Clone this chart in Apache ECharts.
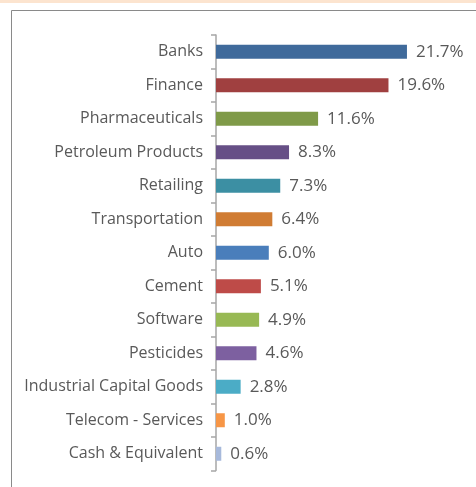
<!DOCTYPE html>
<html><head><meta charset="utf-8">
<script src="https://cdn.jsdelivr.net/npm/echarts@6/dist/echarts.min.js"></script>
<style>html,body{margin:0;padding:0;background:#fff}#c{width:476px;height:487px}</style>
</head><body><div id="c"></div>
<script>
const categories = ["Banks","Finance","Pharmaceuticals","Petroleum Products","Retailing","Transportation","Auto","Cement","Software","Pesticides","Industrial Capital Goods","Telecom - Services","Cash & Equivalent"];
const values = [21.7,19.6,11.6,8.3,7.3,6.4,6.0,5.1,4.9,4.6,2.8,1.0,0.6];
const colors = ["#3F6A9B","#A04040","#7F9A48","#664F86","#3C8FA3","#D07C33","#4A7EBB","#BE4B48","#98B954","#7D60A0","#4BACC6","#F79646","#A7B9DB"];

const chart = echarts.init(document.getElementById('c'));
const font = 'Open Sans';
chart.setOption({
  animation:false,
  graphic:[
    {type:'rect',shape:{x:0,y:0,width:476,height:3},style:{fill:'#FCE4CF'}},
    {type:'rect',shape:{x:11.5,y:10.5,width:520,height:520},style:{fill:'none',stroke:'#8a8a8a',lineWidth:1}}
  ],
  grid:{left:216,right:40,top:35,bottom:16.5,containLabel:false},
  xAxis:{type:'value',min:0,max:25,show:false},
  yAxis:{type:'category',data:categories,inverse:true,
    axisLine:{lineStyle:{color:'#A6A6A6',width:1.5}},
    axisTick:{show:true,length:5,lineStyle:{color:'#A6A6A6',width:1.5}},
    axisLabel:{color:'#595959',fontFamily:font,fontSize:16,margin:13}},
  series:[{type:'bar',data:values.map((v,i)=>({value:v,itemStyle:{color:colors[i]}})),
    barWidth:14,
    label:{show:true,position:'right',distance:9,color:'#595959',fontFamily:font,fontSize:17,
      formatter:p=>p.value.toFixed(1)+'%'}}]
});
</script></body></html>
